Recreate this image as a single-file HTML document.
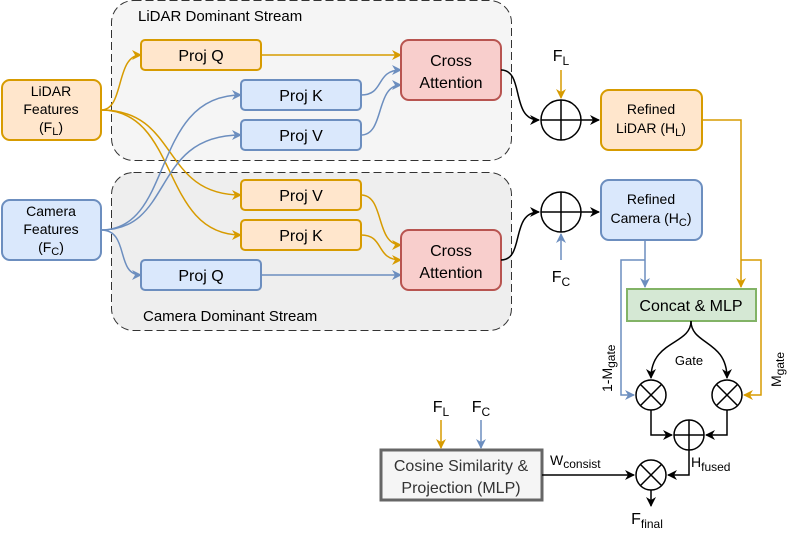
<!DOCTYPE html>
<html><head><meta charset="utf-8"><style>
html,body{margin:0;padding:0;background:#fff;}
svg{display:block;}
svg text{font-family:"Liberation Sans",Arial,sans-serif;}
</style></head><body>
<svg width="790" height="535" viewBox="0 0 790 535" xmlns="http://www.w3.org/2000/svg" font-family="Liberation Sans, Arial, sans-serif">
<defs>
<marker id="ao" viewBox="0 0 10 10" refX="9" refY="5" markerWidth="10" markerHeight="10" orient="auto" markerUnits="userSpaceOnUse"><path d="M0,0 L10,5 L0,10 L3,5z" fill="#d79b00"/></marker>
<marker id="ab" viewBox="0 0 10 10" refX="9" refY="5" markerWidth="10" markerHeight="10" orient="auto" markerUnits="userSpaceOnUse"><path d="M0,0 L10,5 L0,10 L3,5z" fill="#6c8ebf"/></marker>
<marker id="ak" viewBox="0 0 10 10" refX="9" refY="5" markerWidth="10" markerHeight="10" orient="auto" markerUnits="userSpaceOnUse"><path d="M0,0 L10,5 L0,10 L3,5z" fill="#000"/></marker>
</defs>
<rect x="111.5" y="0.5" width="400" height="160" rx="22" fill="#f5f5f5" stroke="#333" stroke-dasharray="8,4"/>
<rect x="111.5" y="172.5" width="400" height="158" rx="22" fill="#eeeeee" stroke="#333" stroke-dasharray="8,4"/>
<text x="138" y="21" font-size="15" fill="#000">LiDAR Dominant Stream</text>
<text x="143" y="321" font-size="15" fill="#000">Camera Dominant Stream</text>

<g fill="none" stroke="#d79b00" stroke-width="1.5">
<path d="M101,110 C125,110 115,55 141,55" marker-end="url(#ao)"/>
<path d="M101,110 C180,110 160,195 241,195" marker-end="url(#ao)"/>
<path d="M101,110 C180,110 160,235 241,235" marker-end="url(#ao)"/>
<path d="M261,55 L401,55" marker-end="url(#ao)"/>
<path d="M361,195 C385,195 375,245 401,245" marker-end="url(#ao)"/>
<path d="M361,235 C385,235 375,260 401,260" marker-end="url(#ao)"/>
</g>
<g fill="none" stroke="#6c8ebf" stroke-width="1.5">
<path d="M101,230 C175,230 150,95 241,95" marker-end="url(#ab)"/>
<path d="M101,230 C175,230 150,135 241,135" marker-end="url(#ab)"/>
<path d="M101,230 C130,230 115,275 141,275" marker-end="url(#ab)"/>
<path d="M361,95 C385,95 375,70 401,70" marker-end="url(#ab)"/>
<path d="M361,135 C385,135 375,85 401,85" marker-end="url(#ab)"/>
<path d="M261,275 L401,275" marker-end="url(#ab)"/>
</g>

<g stroke-width="2">
<rect x="2" y="80" width="99" height="60" rx="8" fill="#ffe6cc" stroke="#d79b00"/>
<rect x="2" y="200" width="99" height="60" rx="8" fill="#dae8fc" stroke="#6c8ebf"/>
<rect x="141" y="40" width="120" height="30" rx="4" fill="#ffe6cc" stroke="#d79b00"/>
<rect x="241" y="80" width="120" height="30" rx="4" fill="#dae8fc" stroke="#6c8ebf"/>
<rect x="241" y="120" width="120" height="30" rx="4" fill="#dae8fc" stroke="#6c8ebf"/>
<rect x="241" y="180" width="120" height="30" rx="4" fill="#ffe6cc" stroke="#d79b00"/>
<rect x="241" y="220" width="120" height="30" rx="4" fill="#ffe6cc" stroke="#d79b00"/>
<rect x="141" y="260" width="120" height="30" rx="4" fill="#dae8fc" stroke="#6c8ebf"/>
<rect x="401" y="40" width="100" height="60" rx="8" fill="#f8cecc" stroke="#b85450"/>
<rect x="401" y="230" width="100" height="60" rx="8" fill="#f8cecc" stroke="#b85450"/>
<rect x="601" y="90" width="101" height="60" rx="8" fill="#ffe6cc" stroke="#d79b00"/>
<rect x="601" y="180" width="101" height="60" rx="8" fill="#dae8fc" stroke="#6c8ebf"/>
<rect x="627" y="289" width="129" height="32" fill="#d5e8d4" stroke="#82b366"/>
<rect x="381" y="450" width="161" height="50" fill="#f5f5f5" stroke="#666" stroke-width="3"/>
</g>

<g font-size="14" text-anchor="middle" fill="#000">
<text x="51" y="96">LiDAR</text><text x="51" y="114">Features</text><text x="51" y="132">(F<tspan font-size="11" dy="3">L</tspan><tspan dy="-3">)</tspan></text>
<text x="51" y="216">Camera</text><text x="51" y="234">Features</text><text x="51" y="252">(F<tspan font-size="11" dy="3">C</tspan><tspan dy="-3">)</tspan></text>
</g>
<g font-size="16" text-anchor="middle" fill="#000">
<text x="201" y="61">Proj Q</text>
<text x="301" y="101">Proj K</text>
<text x="301" y="141">Proj V</text>
<text x="301" y="201">Proj V</text>
<text x="301" y="241">Proj K</text>
<text x="201" y="281">Proj Q</text>
<text x="451" y="66">Cross</text><text x="451" y="88">Attention</text>
<text x="451" y="256">Cross</text><text x="451" y="278">Attention</text>
<text x="691" y="311">Concat &amp; MLP</text>
<text x="461" y="471" fill="#333">Cosine Similarity &amp;</text>
<text x="461" y="493" fill="#333">Projection (MLP)</text>
</g>
<g font-size="14" text-anchor="middle" fill="#000">
<text x="651" y="114">Refined</text><text x="651" y="133">LiDAR (H<tspan font-size="11" dy="3">L</tspan><tspan dy="-3">)</tspan></text>
<text x="651" y="204">Refined</text><text x="651" y="223">Camera (H<tspan font-size="11" dy="3">C</tspan><tspan dy="-3">)</tspan></text>
</g>

<g fill="none" stroke="#000" stroke-width="1.5">
<path d="M501,70 C525,70 510,120 539,120" marker-end="url(#ak)"/>
<path d="M501,260 C525,260 510,212 539,212" marker-end="url(#ak)"/>
<path d="M581,120 L599,120" marker-end="url(#ak)"/>
<path d="M581,212 L599,212" marker-end="url(#ak)"/>
<circle cx="561" cy="120" r="20" fill="#fff"/><path d="M541,120H581M561,100V140"/>
<circle cx="561" cy="212" r="20" fill="#fff"/><path d="M541,212H581M561,192V232"/>
<path d="M691,321 C691,345 651,340 651,378" marker-end="url(#ak)"/>
<path d="M691,321 C691,345 727,340 727,378" marker-end="url(#ak)"/>
<path d="M651,410 V435 H672" marker-end="url(#ak)"/>
<path d="M727,410 V435 H706" marker-end="url(#ak)"/>
<path d="M689,450 V475 H668" marker-end="url(#ak)"/>
<path d="M542,475 H634" marker-end="url(#ak)"/>
<path d="M651,490 V506" marker-end="url(#ak)"/>
<circle cx="651" cy="395" r="15" fill="#fff"/><path d="M640.4,384.4L661.6,405.6M661.6,384.4L640.4,405.6"/>
<circle cx="727" cy="395" r="15" fill="#fff"/><path d="M716.4,384.4L737.6,405.6M737.6,384.4L716.4,405.6"/>
<circle cx="689" cy="435" r="15" fill="#fff"/><path d="M674,435H704M689,420V450"/>
<circle cx="651" cy="475" r="15" fill="#fff"/><path d="M640.4,464.4L661.6,485.6M661.6,464.4L640.4,485.6"/>
</g>
<g fill="none" stroke="#d79b00" stroke-width="1.5">
<path d="M561,70 V98" marker-end="url(#ao)"/>
<path d="M702,120 H741 V287" marker-end="url(#ao)"/>
<path d="M741,260 H761 V395 H744" marker-end="url(#ao)"/>
<path d="M441,420 V448" marker-end="url(#ao)"/>
</g>
<g fill="none" stroke="#6c8ebf" stroke-width="1.5">
<path d="M561,260 V234" marker-end="url(#ab)"/>
<path d="M645,240 V287" marker-end="url(#ab)"/>
<path d="M645,260 H621 V395 H634" marker-end="url(#ab)"/>
<path d="M481,420 V448" marker-end="url(#ab)"/>
</g>

<g font-size="16" fill="#000" text-anchor="middle">
<text x="561" y="61">F<tspan font-size="12" dy="4">L</tspan></text>
<text x="561" y="282">F<tspan font-size="12" dy="4">C</tspan></text>
<text x="441" y="412">F<tspan font-size="12" dy="4">L</tspan></text>
<text x="481" y="412">F<tspan font-size="12" dy="4">C</tspan></text>
<text x="647" y="524">F<tspan font-size="12" dy="4">final</tspan></text>
</g>
<g font-size="14" fill="#000">
<text x="550" y="465">W<tspan font-size="12" dy="3">consist</tspan></text>
<text x="691" y="467">H<tspan font-size="12" dy="4">fused</tspan></text>
<text x="689" y="365" font-size="13" text-anchor="middle">Gate</text>
<text transform="translate(612,392) rotate(-90)">1-M<tspan font-size="12" dy="3">gate</tspan></text>
<text transform="translate(781,387) rotate(-90)">M<tspan font-size="12" dy="3">gate</tspan></text>
</g>
</svg>
</body></html>
